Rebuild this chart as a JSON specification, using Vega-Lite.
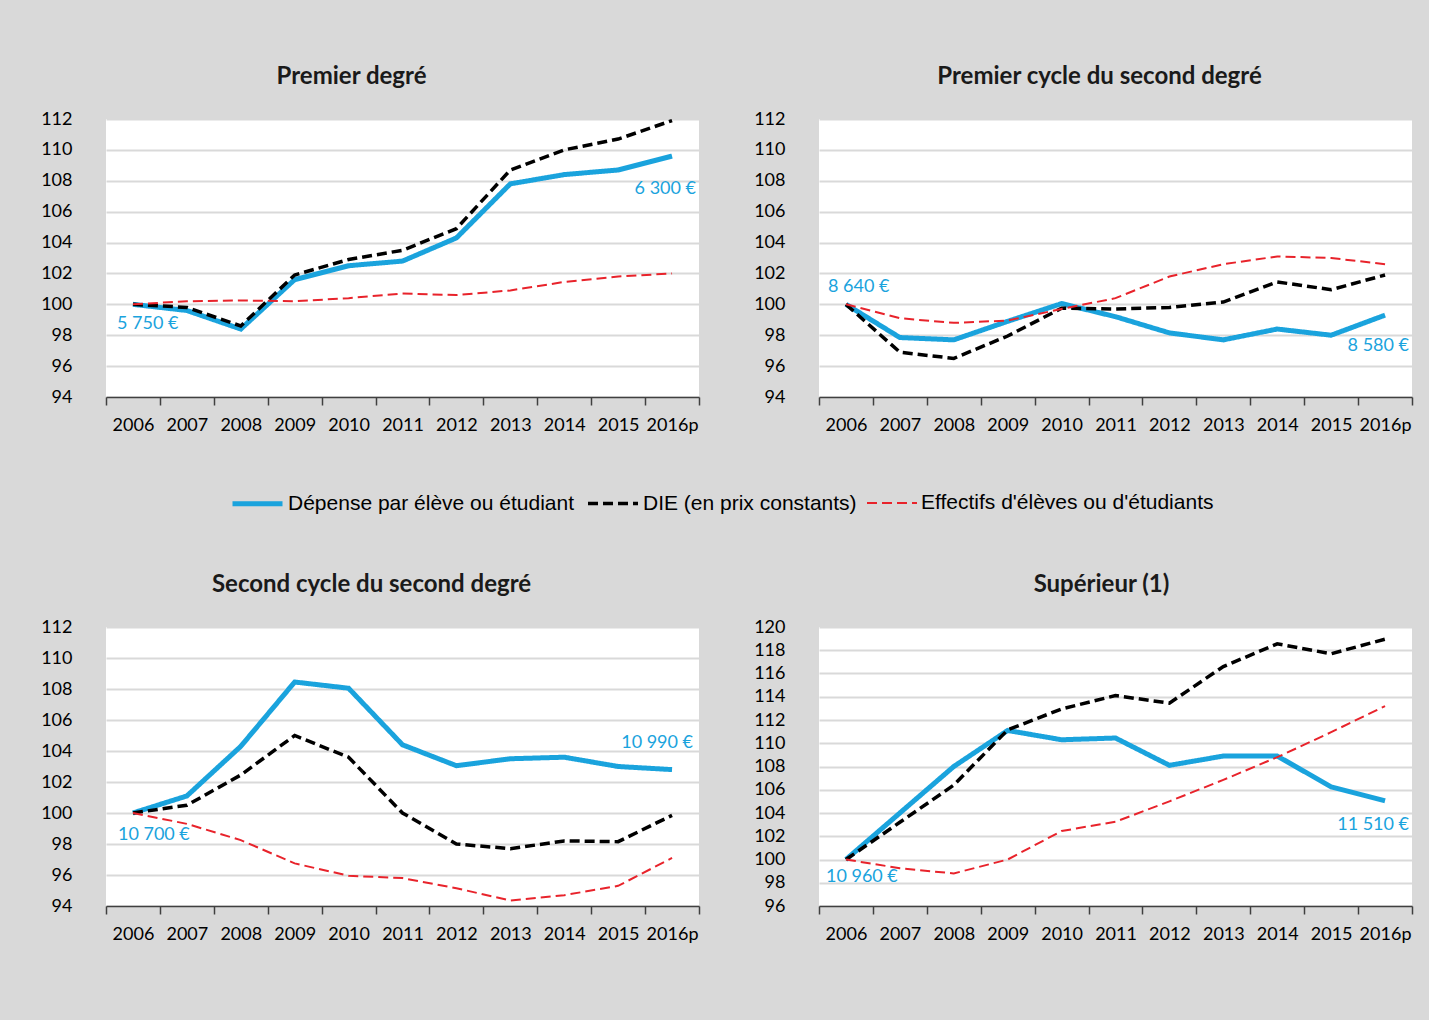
{
  "$schema": "https://vega.github.io/schema/vega-lite/v6.json",
  "background": "#d9d9d9",
  "padding": {"left": 40, "top": 65, "right": 16, "bottom": 77},
  "datasets": {
    "series": [
      {"panel": 1, "year": "2006", "serie": "Dépense par élève ou étudiant", "value": 100.0},
      {"panel": 1, "year": "2007", "serie": "Dépense par élève ou étudiant", "value": 99.6},
      {"panel": 1, "year": "2008", "serie": "Dépense par élève ou étudiant", "value": 98.4},
      {"panel": 1, "year": "2009", "serie": "Dépense par élève ou étudiant", "value": 101.6},
      {"panel": 1, "year": "2010", "serie": "Dépense par élève ou étudiant", "value": 102.5},
      {"panel": 1, "year": "2011", "serie": "Dépense par élève ou étudiant", "value": 102.8},
      {"panel": 1, "year": "2012", "serie": "Dépense par élève ou étudiant", "value": 104.3},
      {"panel": 1, "year": "2013", "serie": "Dépense par élève ou étudiant", "value": 107.8},
      {"panel": 1, "year": "2014", "serie": "Dépense par élève ou étudiant", "value": 108.4},
      {"panel": 1, "year": "2015", "serie": "Dépense par élève ou étudiant", "value": 108.7},
      {"panel": 1, "year": "2016p", "serie": "Dépense par élève ou étudiant", "value": 109.6},
      {"panel": 1, "year": "2006", "serie": "DIE (en prix constants)", "value": 100.0},
      {"panel": 1, "year": "2007", "serie": "DIE (en prix constants)", "value": 99.8},
      {"panel": 1, "year": "2008", "serie": "DIE (en prix constants)", "value": 98.6},
      {"panel": 1, "year": "2009", "serie": "DIE (en prix constants)", "value": 101.9},
      {"panel": 1, "year": "2010", "serie": "DIE (en prix constants)", "value": 102.9},
      {"panel": 1, "year": "2011", "serie": "DIE (en prix constants)", "value": 103.5},
      {"panel": 1, "year": "2012", "serie": "DIE (en prix constants)", "value": 104.9},
      {"panel": 1, "year": "2013", "serie": "DIE (en prix constants)", "value": 108.7},
      {"panel": 1, "year": "2014", "serie": "DIE (en prix constants)", "value": 110.0},
      {"panel": 1, "year": "2015", "serie": "DIE (en prix constants)", "value": 110.7},
      {"panel": 1, "year": "2016p", "serie": "DIE (en prix constants)", "value": 111.9},
      {"panel": 1, "year": "2006", "serie": "Effectifs d'élèves ou d'étudiants", "value": 100.0},
      {"panel": 1, "year": "2007", "serie": "Effectifs d'élèves ou d'étudiants", "value": 100.2},
      {"panel": 1, "year": "2008", "serie": "Effectifs d'élèves ou d'étudiants", "value": 100.25},
      {"panel": 1, "year": "2009", "serie": "Effectifs d'élèves ou d'étudiants", "value": 100.2},
      {"panel": 1, "year": "2010", "serie": "Effectifs d'élèves ou d'étudiants", "value": 100.4},
      {"panel": 1, "year": "2011", "serie": "Effectifs d'élèves ou d'étudiants", "value": 100.7},
      {"panel": 1, "year": "2012", "serie": "Effectifs d'élèves ou d'étudiants", "value": 100.6},
      {"panel": 1, "year": "2013", "serie": "Effectifs d'élèves ou d'étudiants", "value": 100.9},
      {"panel": 1, "year": "2014", "serie": "Effectifs d'élèves ou d'étudiants", "value": 101.45},
      {"panel": 1, "year": "2015", "serie": "Effectifs d'élèves ou d'étudiants", "value": 101.8},
      {"panel": 1, "year": "2016p", "serie": "Effectifs d'élèves ou d'étudiants", "value": 102.0},

      {"panel": 2, "year": "2006", "serie": "Dépense par élève ou étudiant", "value": 100.0},
      {"panel": 2, "year": "2007", "serie": "Dépense par élève ou étudiant", "value": 97.85},
      {"panel": 2, "year": "2008", "serie": "Dépense par élève ou étudiant", "value": 97.7},
      {"panel": 2, "year": "2009", "serie": "Dépense par élève ou étudiant", "value": 98.9},
      {"panel": 2, "year": "2010", "serie": "Dépense par élève ou étudiant", "value": 100.05},
      {"panel": 2, "year": "2011", "serie": "Dépense par élève ou étudiant", "value": 99.2},
      {"panel": 2, "year": "2012", "serie": "Dépense par élève ou étudiant", "value": 98.15},
      {"panel": 2, "year": "2013", "serie": "Dépense par élève ou étudiant", "value": 97.7},
      {"panel": 2, "year": "2014", "serie": "Dépense par élève ou étudiant", "value": 98.4},
      {"panel": 2, "year": "2015", "serie": "Dépense par élève ou étudiant", "value": 98.0},
      {"panel": 2, "year": "2016p", "serie": "Dépense par élève ou étudiant", "value": 99.3},
      {"panel": 2, "year": "2006", "serie": "DIE (en prix constants)", "value": 100.0},
      {"panel": 2, "year": "2007", "serie": "DIE (en prix constants)", "value": 96.9},
      {"panel": 2, "year": "2008", "serie": "DIE (en prix constants)", "value": 96.5},
      {"panel": 2, "year": "2009", "serie": "DIE (en prix constants)", "value": 97.95},
      {"panel": 2, "year": "2010", "serie": "DIE (en prix constants)", "value": 99.75},
      {"panel": 2, "year": "2011", "serie": "DIE (en prix constants)", "value": 99.7},
      {"panel": 2, "year": "2012", "serie": "DIE (en prix constants)", "value": 99.8},
      {"panel": 2, "year": "2013", "serie": "DIE (en prix constants)", "value": 100.15},
      {"panel": 2, "year": "2014", "serie": "DIE (en prix constants)", "value": 101.45},
      {"panel": 2, "year": "2015", "serie": "DIE (en prix constants)", "value": 100.95},
      {"panel": 2, "year": "2016p", "serie": "DIE (en prix constants)", "value": 101.9},
      {"panel": 2, "year": "2006", "serie": "Effectifs d'élèves ou d'étudiants", "value": 100.0},
      {"panel": 2, "year": "2007", "serie": "Effectifs d'élèves ou d'étudiants", "value": 99.1},
      {"panel": 2, "year": "2008", "serie": "Effectifs d'élèves ou d'étudiants", "value": 98.8},
      {"panel": 2, "year": "2009", "serie": "Effectifs d'élèves ou d'étudiants", "value": 98.95},
      {"panel": 2, "year": "2010", "serie": "Effectifs d'élèves ou d'étudiants", "value": 99.7},
      {"panel": 2, "year": "2011", "serie": "Effectifs d'élèves ou d'étudiants", "value": 100.4},
      {"panel": 2, "year": "2012", "serie": "Effectifs d'élèves ou d'étudiants", "value": 101.8},
      {"panel": 2, "year": "2013", "serie": "Effectifs d'élèves ou d'étudiants", "value": 102.6},
      {"panel": 2, "year": "2014", "serie": "Effectifs d'élèves ou d'étudiants", "value": 103.1},
      {"panel": 2, "year": "2015", "serie": "Effectifs d'élèves ou d'étudiants", "value": 103.0},
      {"panel": 2, "year": "2016p", "serie": "Effectifs d'élèves ou d'étudiants", "value": 102.6},

      {"panel": 3, "year": "2006", "serie": "Dépense par élève ou étudiant", "value": 100.0},
      {"panel": 3, "year": "2007", "serie": "Dépense par élève ou étudiant", "value": 101.1},
      {"panel": 3, "year": "2008", "serie": "Dépense par élève ou étudiant", "value": 104.3},
      {"panel": 3, "year": "2009", "serie": "Dépense par élève ou étudiant", "value": 108.45},
      {"panel": 3, "year": "2010", "serie": "Dépense par élève ou étudiant", "value": 108.05},
      {"panel": 3, "year": "2011", "serie": "Dépense par élève ou étudiant", "value": 104.4},
      {"panel": 3, "year": "2012", "serie": "Dépense par élève ou étudiant", "value": 103.05},
      {"panel": 3, "year": "2013", "serie": "Dépense par élève ou étudiant", "value": 103.5},
      {"panel": 3, "year": "2014", "serie": "Dépense par élève ou étudiant", "value": 103.6},
      {"panel": 3, "year": "2015", "serie": "Dépense par élève ou étudiant", "value": 103.0},
      {"panel": 3, "year": "2016p", "serie": "Dépense par élève ou étudiant", "value": 102.8},
      {"panel": 3, "year": "2006", "serie": "DIE (en prix constants)", "value": 100.0},
      {"panel": 3, "year": "2007", "serie": "DIE (en prix constants)", "value": 100.5},
      {"panel": 3, "year": "2008", "serie": "DIE (en prix constants)", "value": 102.45},
      {"panel": 3, "year": "2009", "serie": "DIE (en prix constants)", "value": 105.0},
      {"panel": 3, "year": "2010", "serie": "DIE (en prix constants)", "value": 103.6},
      {"panel": 3, "year": "2011", "serie": "DIE (en prix constants)", "value": 100.0},
      {"panel": 3, "year": "2012", "serie": "DIE (en prix constants)", "value": 98.0},
      {"panel": 3, "year": "2013", "serie": "DIE (en prix constants)", "value": 97.7},
      {"panel": 3, "year": "2014", "serie": "DIE (en prix constants)", "value": 98.2},
      {"panel": 3, "year": "2015", "serie": "DIE (en prix constants)", "value": 98.15},
      {"panel": 3, "year": "2016p", "serie": "DIE (en prix constants)", "value": 99.85},
      {"panel": 3, "year": "2006", "serie": "Effectifs d'élèves ou d'étudiants", "value": 100.0},
      {"panel": 3, "year": "2007", "serie": "Effectifs d'élèves ou d'étudiants", "value": 99.3},
      {"panel": 3, "year": "2008", "serie": "Effectifs d'élèves ou d'étudiants", "value": 98.25},
      {"panel": 3, "year": "2009", "serie": "Effectifs d'élèves ou d'étudiants", "value": 96.75},
      {"panel": 3, "year": "2010", "serie": "Effectifs d'élèves ou d'étudiants", "value": 95.95},
      {"panel": 3, "year": "2011", "serie": "Effectifs d'élèves ou d'étudiants", "value": 95.8},
      {"panel": 3, "year": "2012", "serie": "Effectifs d'élèves ou d'étudiants", "value": 95.15},
      {"panel": 3, "year": "2013", "serie": "Effectifs d'élèves ou d'étudiants", "value": 94.35},
      {"panel": 3, "year": "2014", "serie": "Effectifs d'élèves ou d'étudiants", "value": 94.7},
      {"panel": 3, "year": "2015", "serie": "Effectifs d'élèves ou d'étudiants", "value": 95.3},
      {"panel": 3, "year": "2016p", "serie": "Effectifs d'élèves ou d'étudiants", "value": 97.1},

      {"panel": 4, "year": "2006", "serie": "Dépense par élève ou étudiant", "value": 100.0},
      {"panel": 4, "year": "2007", "serie": "Dépense par élève ou étudiant", "value": 104.0},
      {"panel": 4, "year": "2008", "serie": "Dépense par élève ou étudiant", "value": 108.0},
      {"panel": 4, "year": "2009", "serie": "Dépense par élève ou étudiant", "value": 111.1},
      {"panel": 4, "year": "2010", "serie": "Dépense par élève ou étudiant", "value": 110.3},
      {"panel": 4, "year": "2011", "serie": "Dépense par élève ou étudiant", "value": 110.45},
      {"panel": 4, "year": "2012", "serie": "Dépense par élève ou étudiant", "value": 108.1},
      {"panel": 4, "year": "2013", "serie": "Dépense par élève ou étudiant", "value": 108.9},
      {"panel": 4, "year": "2014", "serie": "Dépense par élève ou étudiant", "value": 108.9},
      {"panel": 4, "year": "2015", "serie": "Dépense par élève ou étudiant", "value": 106.25},
      {"panel": 4, "year": "2016p", "serie": "Dépense par élève ou étudiant", "value": 105.05},
      {"panel": 4, "year": "2006", "serie": "DIE (en prix constants)", "value": 100.0},
      {"panel": 4, "year": "2007", "serie": "DIE (en prix constants)", "value": 103.2},
      {"panel": 4, "year": "2008", "serie": "DIE (en prix constants)", "value": 106.4},
      {"panel": 4, "year": "2009", "serie": "DIE (en prix constants)", "value": 111.15},
      {"panel": 4, "year": "2010", "serie": "DIE (en prix constants)", "value": 112.95},
      {"panel": 4, "year": "2011", "serie": "DIE (en prix constants)", "value": 114.1},
      {"panel": 4, "year": "2012", "serie": "DIE (en prix constants)", "value": 113.45},
      {"panel": 4, "year": "2013", "serie": "DIE (en prix constants)", "value": 116.6},
      {"panel": 4, "year": "2014", "serie": "DIE (en prix constants)", "value": 118.55},
      {"panel": 4, "year": "2015", "serie": "DIE (en prix constants)", "value": 117.7},
      {"panel": 4, "year": "2016p", "serie": "DIE (en prix constants)", "value": 118.95},
      {"panel": 4, "year": "2006", "serie": "Effectifs d'élèves ou d'étudiants", "value": 100.0},
      {"panel": 4, "year": "2007", "serie": "Effectifs d'élèves ou d'étudiants", "value": 99.25},
      {"panel": 4, "year": "2008", "serie": "Effectifs d'élèves ou d'étudiants", "value": 98.8},
      {"panel": 4, "year": "2009", "serie": "Effectifs d'élèves ou d'étudiants", "value": 100.0},
      {"panel": 4, "year": "2010", "serie": "Effectifs d'élèves ou d'étudiants", "value": 102.45},
      {"panel": 4, "year": "2011", "serie": "Effectifs d'élèves ou d'étudiants", "value": 103.25},
      {"panel": 4, "year": "2012", "serie": "Effectifs d'élèves ou d'étudiants", "value": 105.0},
      {"panel": 4, "year": "2013", "serie": "Effectifs d'élèves ou d'étudiants", "value": 106.85},
      {"panel": 4, "year": "2014", "serie": "Effectifs d'élèves ou d'étudiants", "value": 108.8},
      {"panel": 4, "year": "2015", "serie": "Effectifs d'élèves ou d'étudiants", "value": 110.95},
      {"panel": 4, "year": "2016p", "serie": "Effectifs d'élèves ou d'étudiants", "value": 113.2}
    ],
    "labels": [
      {"panel": 1, "year": "2006", "value": 98.7, "label": "5 750 €"},
      {"panel": 1, "year": "2016p", "value": 107.5, "label": "6 300 €"},
      {"panel": 2, "year": "2006", "value": 101.1, "label": "8 640 €"},
      {"panel": 2, "year": "2016p", "value": 97.3, "label": "8 580 €"},
      {"panel": 3, "year": "2006", "value": 98.6, "label": "10 700 €"},
      {"panel": 3, "year": "2016p", "value": 104.5, "label": "10 990 €"},
      {"panel": 4, "year": "2006", "value": 98.5, "label": "10 960 €"},
      {"panel": 4, "year": "2016p", "value": 103.0, "label": "11 510 €"}
    ]
  },
  "config": {
    "font": "Lato",
    "view": {"fill": "white", "stroke": null},
    "title": {"font": "Lato", "fontSize": 24, "fontWeight": "bold", "color": "#1a1a1a", "offset": 21, "frame": "group", "anchor": "middle"},
    "axisY": {"domain": false, "ticks": false, "tickSize": 0, "labelPadding": 34, "gridColor": "#d9d9d9", "gridWidth": 2, "labelFontSize": 18, "labelColor": "#000000", "labelFont": "Lato", "title": null},
    "axisX": {"grid": false, "domainColor": "#404040", "domainWidth": 1.5, "tickColor": "#404040", "tickSize": 8, "tickWidth": 1.5, "labelAngle": 0, "labelPadding": 11, "tickBand": "extent", "labelFontSize": 18, "labelColor": "#000000", "labelFont": "Lato", "title": null},
    "legend": {"orient": "none", "legendX": 124, "legendY": 357, "direction": "horizontal", "symbolType": "stroke", "symbolSize": 2500, "labelFontSize": 21, "labelFont": "Liberation Sans", "labelColor": "#000000", "labelOffset": 3, "columnPadding": 6, "labelLimit": 400}
  },
  "bounds": "flush",
  "spacing": 508,
  "resolve": {"scale": {"color": "shared", "strokeDash": "shared", "strokeWidth": "shared"}, "legend": {"color": "shared", "strokeDash": "shared", "strokeWidth": "shared"}},
  "vconcat": [
    {
      "bounds": "flush",
      "spacing": 120,
      "resolve": {"scale": {"color": "shared", "strokeDash": "shared", "strokeWidth": "shared"}, "legend": {"color": "shared", "strokeDash": "shared", "strokeWidth": "shared"}},
      "hconcat": [
        {
          "width": 593, "height": 278,
          "title": {"text": "Premier degré", "dx": -51},
          "encoding": {
            "x": {"field": "year", "type": "ordinal", "bandPosition": 0.5, "scale": {"type": "band", "paddingInner": 0, "paddingOuter": 0}},
            "y": {"field": "value", "type": "quantitative", "scale": {"domain": [94, 112], "nice": false, "zero": false}, "axis": {"values": [94, 96, 98, 100, 102, 104, 106, 108, 110, 112]}}
          },
          "layer": [
            {
              "data": {"name": "series"},
              "transform": [{"filter": "datum.panel == 1"}],
              "mark": {"type": "line"},
              "encoding": {
                "color": {"field": "serie", "type": "nominal", "scale": {"domain": ["Dépense par élève ou étudiant", "DIE (en prix constants)", "Effectifs d'élèves ou d'étudiants"], "range": ["#1aa3dd", "#000000", "#e8232b"]}, "legend": {"title": null}},
                "strokeDash": {"field": "serie", "type": "nominal", "scale": {"domain": ["Dépense par élève ou étudiant", "DIE (en prix constants)", "Effectifs d'élèves ou d'étudiants"], "range": [[1, 0], [10, 5], [10, 5]]}, "legend": {"title": null}},
                "strokeWidth": {"field": "serie", "type": "nominal", "scale": {"domain": ["Dépense par élève ou étudiant", "DIE (en prix constants)", "Effectifs d'élèves ou d'étudiants"], "range": [5, 2, 2]}, "legend": {"title": null}}
              }
            },
            {
              "data": {"name": "labels"},
              "transform": [{"filter": "datum.panel == 1 && datum.year == '2006'"}],
              "mark": {"type": "text", "align": "left", "baseline": "middle", "dx": -16, "fontSize": 18, "color": "#1aa3dd"},
              "encoding": {"text": {"field": "label"}}
            },
            {
              "data": {"name": "labels"},
              "transform": [{"filter": "datum.panel == 1 && datum.year == '2016p'"}],
              "mark": {"type": "text", "align": "right", "baseline": "middle", "dx": 24, "fontSize": 18, "color": "#1aa3dd"},
              "encoding": {"text": {"field": "label"}}
            }
          ]
        },
        {
          "width": 593, "height": 278,
          "title": {"text": "Premier cycle du second degré", "dx": -16},
          "encoding": {
            "x": {"field": "year", "type": "ordinal", "bandPosition": 0.5, "scale": {"type": "band", "paddingInner": 0, "paddingOuter": 0}},
            "y": {"field": "value", "type": "quantitative", "scale": {"domain": [94, 112], "nice": false, "zero": false}, "axis": {"values": [94, 96, 98, 100, 102, 104, 106, 108, 110, 112]}}
          },
          "layer": [
            {
              "data": {"name": "series"},
              "transform": [{"filter": "datum.panel == 2"}],
              "mark": {"type": "line"},
              "encoding": {
                "color": {"field": "serie", "type": "nominal", "scale": {"domain": ["Dépense par élève ou étudiant", "DIE (en prix constants)", "Effectifs d'élèves ou d'étudiants"], "range": ["#1aa3dd", "#000000", "#e8232b"]}, "legend": {"title": null}},
                "strokeDash": {"field": "serie", "type": "nominal", "scale": {"domain": ["Dépense par élève ou étudiant", "DIE (en prix constants)", "Effectifs d'élèves ou d'étudiants"], "range": [[1, 0], [10, 5], [10, 5]]}, "legend": {"title": null}},
                "strokeWidth": {"field": "serie", "type": "nominal", "scale": {"domain": ["Dépense par élève ou étudiant", "DIE (en prix constants)", "Effectifs d'élèves ou d'étudiants"], "range": [5, 2, 2]}, "legend": {"title": null}}
              }
            },
            {
              "data": {"name": "labels"},
              "transform": [{"filter": "datum.panel == 2 && datum.year == '2006'"}],
              "mark": {"type": "text", "align": "left", "baseline": "middle", "dx": -18, "fontSize": 18, "color": "#1aa3dd"},
              "encoding": {"text": {"field": "label"}}
            },
            {
              "data": {"name": "labels"},
              "transform": [{"filter": "datum.panel == 2 && datum.year == '2016p'"}],
              "mark": {"type": "text", "align": "right", "baseline": "middle", "dx": 24, "fontSize": 18, "color": "#1aa3dd"},
              "encoding": {"text": {"field": "label"}}
            }
          ]
        }
      ]
    },
    {
      "bounds": "flush",
      "spacing": 120,
      "resolve": {"scale": {"color": "shared", "strokeDash": "shared", "strokeWidth": "shared"}, "legend": {"color": "shared", "strokeDash": "shared", "strokeWidth": "shared"}},
      "hconcat": [
        {
          "width": 593, "height": 279,
          "title": {"text": "Second cycle du second degré", "dx": -31},
          "encoding": {
            "x": {"field": "year", "type": "ordinal", "bandPosition": 0.5, "scale": {"type": "band", "paddingInner": 0, "paddingOuter": 0}},
            "y": {"field": "value", "type": "quantitative", "scale": {"domain": [94, 112], "nice": false, "zero": false}, "axis": {"values": [94, 96, 98, 100, 102, 104, 106, 108, 110, 112]}}
          },
          "layer": [
            {
              "data": {"name": "series"},
              "transform": [{"filter": "datum.panel == 3"}],
              "mark": {"type": "line"},
              "encoding": {
                "color": {"field": "serie", "type": "nominal", "scale": {"domain": ["Dépense par élève ou étudiant", "DIE (en prix constants)", "Effectifs d'élèves ou d'étudiants"], "range": ["#1aa3dd", "#000000", "#e8232b"]}, "legend": {"title": null}},
                "strokeDash": {"field": "serie", "type": "nominal", "scale": {"domain": ["Dépense par élève ou étudiant", "DIE (en prix constants)", "Effectifs d'élèves ou d'étudiants"], "range": [[1, 0], [10, 5], [10, 5]]}, "legend": {"title": null}},
                "strokeWidth": {"field": "serie", "type": "nominal", "scale": {"domain": ["Dépense par élève ou étudiant", "DIE (en prix constants)", "Effectifs d'élèves ou d'étudiants"], "range": [5, 2, 2]}, "legend": {"title": null}}
              }
            },
            {
              "data": {"name": "labels"},
              "transform": [{"filter": "datum.panel == 3 && datum.year == '2006'"}],
              "mark": {"type": "text", "align": "left", "baseline": "middle", "dx": -15, "fontSize": 18, "color": "#1aa3dd"},
              "encoding": {"text": {"field": "label"}}
            },
            {
              "data": {"name": "labels"},
              "transform": [{"filter": "datum.panel == 3 && datum.year == '2016p'"}],
              "mark": {"type": "text", "align": "right", "baseline": "middle", "dx": 21, "fontSize": 18, "color": "#1aa3dd"},
              "encoding": {"text": {"field": "label"}}
            }
          ]
        },
        {
          "width": 593, "height": 279,
          "title": {"text": "Supérieur (1)", "dx": -14},
          "encoding": {
            "x": {"field": "year", "type": "ordinal", "bandPosition": 0.5, "scale": {"type": "band", "paddingInner": 0, "paddingOuter": 0}},
            "y": {"field": "value", "type": "quantitative", "scale": {"domain": [96, 120], "nice": false, "zero": false}, "axis": {"values": [96, 98, 100, 102, 104, 106, 108, 110, 112, 114, 116, 118, 120]}}
          },
          "layer": [
            {
              "data": {"name": "series"},
              "transform": [{"filter": "datum.panel == 4"}],
              "mark": {"type": "line"},
              "encoding": {
                "color": {"field": "serie", "type": "nominal", "scale": {"domain": ["Dépense par élève ou étudiant", "DIE (en prix constants)", "Effectifs d'élèves ou d'étudiants"], "range": ["#1aa3dd", "#000000", "#e8232b"]}, "legend": {"title": null}},
                "strokeDash": {"field": "serie", "type": "nominal", "scale": {"domain": ["Dépense par élève ou étudiant", "DIE (en prix constants)", "Effectifs d'élèves ou d'étudiants"], "range": [[1, 0], [10, 5], [10, 5]]}, "legend": {"title": null}},
                "strokeWidth": {"field": "serie", "type": "nominal", "scale": {"domain": ["Dépense par élève ou étudiant", "DIE (en prix constants)", "Effectifs d'élèves ou d'étudiants"], "range": [5, 2, 2]}, "legend": {"title": null}}
              }
            },
            {
              "data": {"name": "labels"},
              "transform": [{"filter": "datum.panel == 4 && datum.year == '2006'"}],
              "mark": {"type": "text", "align": "left", "baseline": "middle", "dx": -20, "fontSize": 18, "color": "#1aa3dd"},
              "encoding": {"text": {"field": "label"}}
            },
            {
              "data": {"name": "labels"},
              "transform": [{"filter": "datum.panel == 4 && datum.year == '2016p'"}],
              "mark": {"type": "text", "align": "right", "baseline": "middle", "dx": 24, "fontSize": 18, "color": "#1aa3dd"},
              "encoding": {"text": {"field": "label"}}
            }
          ]
        }
      ]
    }
  ]
}
